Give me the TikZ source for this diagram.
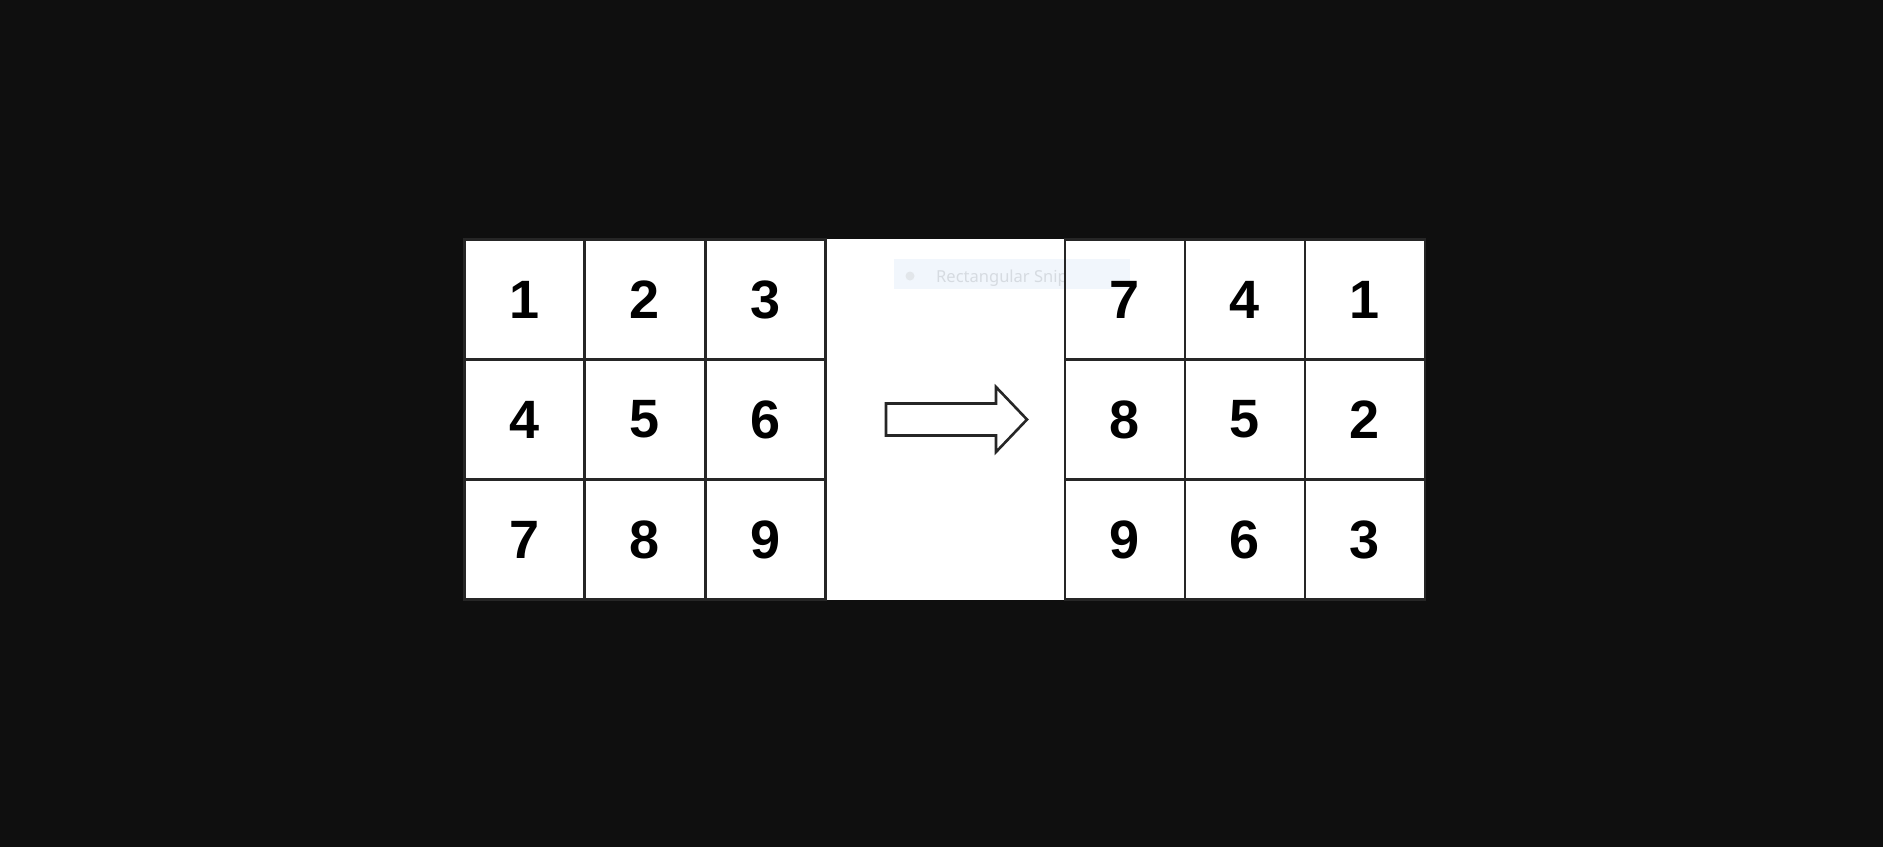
\documentclass[tikz,border=0pt]{standalone}
\usepackage{fontspec}
\setmainfont{Liberation Sans}
\newfontfamily\snipfont{Noto Sans}
\definecolor{bgdark}{HTML}{0F0F0F}
\definecolor{gridline}{HTML}{262626}
\definecolor{snipbox}{HTML}{F1F6FC}
\definecolor{sniptext}{HTML}{D6DBE1}
\tikzset{cell/.style={draw=gridline,line width=2.6pt,minimum size=120pt,inner sep=0pt,
    font=\fontsize{54}{60}\selectfont\bfseries}}

\begin{document}
\begin{tikzpicture}[x=1pt,y=-1pt]
			\fill [bgdark] (0,0) rectangle (1883,847);
			\useasboundingbox (0,0) rectangle (1883,847);
			\fill [white] (464,239) rectangle (1425,600);
			% snip overlay
			\fill [snipbox] (894,259) rectangle (1130,289);
			\fill [sniptext!70!white] (910,276) circle (4.5);
			\begin{scope}
			\clip (894,255) rectangle (1065,295);
			\node [anchor=base west,text=sniptext,font=\snipfont\fontsize{16.5}{20}\selectfont,inner sep=0pt] (snip) at (936,282) {Rectangular Snip};
			\end{scope}
			% left grid
			\foreach \lab [count=\k from 0] in {1,2,3,4,5,6,7,8,9} {
				\pgfmathtruncatemacro\col{mod(\k,3)}
				\pgfmathtruncatemacro\row{div(\k,3)}
				\node [cell] (a\lab) at (524.5+120.5*\col,299.5+120*\row) {\lab};
			}
			% right grid, rotated
			\foreach \lab [count=\k from 0] in {7,4,1,8,5,2,9,6,3} {
				\pgfmathtruncatemacro\col{mod(\k,3)}
				\pgfmathtruncatemacro\row{div(\k,3)}
				\node [cell] (b\lab) at (1125+120*\col,299.5+120*\row) {\lab};
			}
			\draw [gridline,line width=2.6pt,fill=white,line join=miter] (886,403.5) -- (996,403.5) -- (996,387) -- (1027,419.5) -- (996,452) -- (996,435.5) -- (886,435.5) -- cycle;
			\end{tikzpicture}
\end{document}
